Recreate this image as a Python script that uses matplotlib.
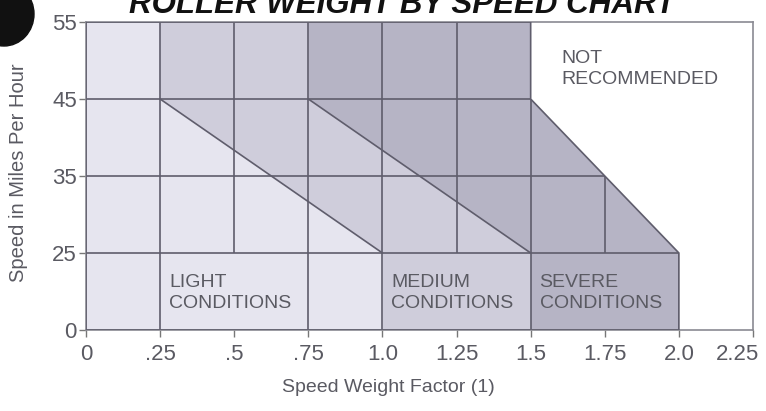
import numpy as np
import matplotlib
matplotlib.use("Agg")
import matplotlib.pyplot as plt
import matplotlib.transforms as mtransforms
from matplotlib.patches import Polygon, Ellipse

# speed scale used by the chart: evenly spaced bands
speed_ticks = [0, 25, 35, 45, 55]
factor_ticks = [0, 0.25, 0.5, 0.75, 1.0, 1.25, 1.5, 1.75, 2.0, 2.25]
factor_labels = ["0", ".25", ".5", ".75", "1.0", "1.25", "1.5", "1.75", "2.0", "2.25"]

# region outlines as (speed weight factor, mph)
light_x = [0, 1.0, 1.0, 0.25, 0.25, 0]
light_y = [0, 0, 25, 45, 55, 55]
medium_x = [1.0, 1.5, 1.5, 0.75, 0.75, 0.25, 0.25, 1.0]
medium_y = [0, 0, 25, 45, 55, 55, 45, 25]
severe_x = [1.5, 2.0, 2.0, 1.75, 1.5, 1.5, 0.75, 0.75, 1.5]
severe_y = [0, 0, 25, 35, 45, 55, 55, 45, 25]
outer_x = [0, 2.0, 2.0, 1.75, 1.5, 1.5, 0]
outer_y = [0, 0, 25, 35, 45, 55, 55]

# grid lines inside the shaded area
full_lines_x = [0.25, 0.75, 1.0, 1.5, 2.0]
upper_lines_x = [0.5, 1.25, 1.75]
grid_speeds = [25, 35, 45]

region_labels = ["LIGHT\nCONDITIONS", "MEDIUM\nCONDITIONS", "SEVERE\nCONDITIONS"]
region_label_x = [0.28, 1.03, 1.53]
region_label_y = [12, 12, 12]

colors = {"light": "#e6e5ef", "medium": "#cfcddb", "severe": "#b6b4c5"}
line_color = "#5f5d6c"
text_color = "#5a5a62"

band_pos = np.arange(len(speed_ticks))


def fwd(v):
    return np.interp(v, speed_ticks, band_pos)


def inv(p):
    return np.interp(p, band_pos, speed_ticks)


plt.rcParams["font.family"] = ["Liberation Sans", "DejaVu Sans"]

fig = plt.figure(figsize=(7.66, 4.11), dpi=100)
ax = fig.add_axes([86 / 766, 1 - 330 / 411, (753 - 86) / 766, (330 - 22) / 411])
ax.set_yscale("function", functions=(fwd, inv))
ax.set_xlim(0, 2.25)
ax.set_ylim(0, 55)

for xs, ys, key in [(light_x, light_y, "light"), (medium_x, medium_y, "medium"),
                    (severe_x, severe_y, "severe")]:
    ax.add_patch(Polygon(np.column_stack([xs, ys]), closed=True, facecolor=colors[key],
                         edgecolor="none", zorder=1))

# outline of shaded area, also used to clip the grid
outline = Polygon(np.column_stack([outer_x, outer_y]), closed=True, facecolor="none",
                  edgecolor=line_color, linewidth=1.2, zorder=3)
ax.add_patch(outline)

# diagonal boundaries between conditions
ax.plot([0.25, 1.0], [45, 25], color=line_color, linewidth=1.2, zorder=3)
ax.plot([0.75, 1.5], [45, 25], color=line_color, linewidth=1.2, zorder=3)

vl1 = ax.vlines(full_lines_x, 0, 55, color=line_color, linewidth=1.2, zorder=2)
vl2 = ax.vlines(upper_lines_x, 25, 55, color=line_color, linewidth=1.2, zorder=2)
hl = ax.hlines(grid_speeds, 0, 2.25, color=line_color, linewidth=1.2, zorder=2)
for coll in (vl1, vl2, hl):
    coll.set_clip_path(outline)

for lab, lx, ly in zip(region_labels, region_label_x, region_label_y):
    ax.text(lx, ly, lab, ha="left", va="center", fontsize=14, color=text_color,
            linespacing=1.3, zorder=4)
ax.text(1.605, 51.3, "NOT\nRECOMMENDED", ha="left", va="top", fontsize=14,
        color=text_color, linespacing=1.3, zorder=4)

ax.set_xticks(factor_ticks)
ax.set_xticklabels(factor_labels)
ax.set_yticks(speed_ticks)
ax.set_yticklabels([str(s) for s in speed_ticks])
ax.tick_params(axis="both", direction="out", length=5, width=1, color="#777777",
               labelcolor=text_color, labelsize=16)
ax.tick_params(axis="x", pad=5)
ax.tick_params(axis="y", pad=1.5)
ax.minorticks_off()
for name, spine in ax.spines.items():
    spine.set_color("#8a8a92")
    spine.set_linewidth(1.2)

# last x label sits left of its tick so it stays on the page
shift = mtransforms.ScaledTranslation(-15 / 100, 0, fig.dpi_scale_trans)
last = ax.get_xticklabels()[-1]
last.set_transform(last.get_transform() + shift)

ax.set_xlabel("Speed Weight Factor (1)", fontsize=14, color=text_color)
ax.xaxis.set_label_coords((388 - 86) / (753 - 86), -0.16)
ax.set_ylabel("Speed in Miles Per Hour", fontsize=14.5, color=text_color)
ax.yaxis.set_label_coords(-(86 - 28) / (753 - 86), (330 - 173) / (330 - 22))

# partly cut-off title and bullet from the scanned page
fig.text(402 / 766, 1 - 13 / 411, "ROLLER WEIGHT BY SPEED CHART", ha="center",
         va="baseline", fontsize=22.5, fontweight="bold", fontstyle="italic",
         color="#111111")
fig.add_artist(Ellipse((4 / 766, 1 - 14 / 411), 60 / 766, 64 / 411, color="#111111",
                       transform=fig.transFigure))

fig.savefig("out.png", dpi=100)
